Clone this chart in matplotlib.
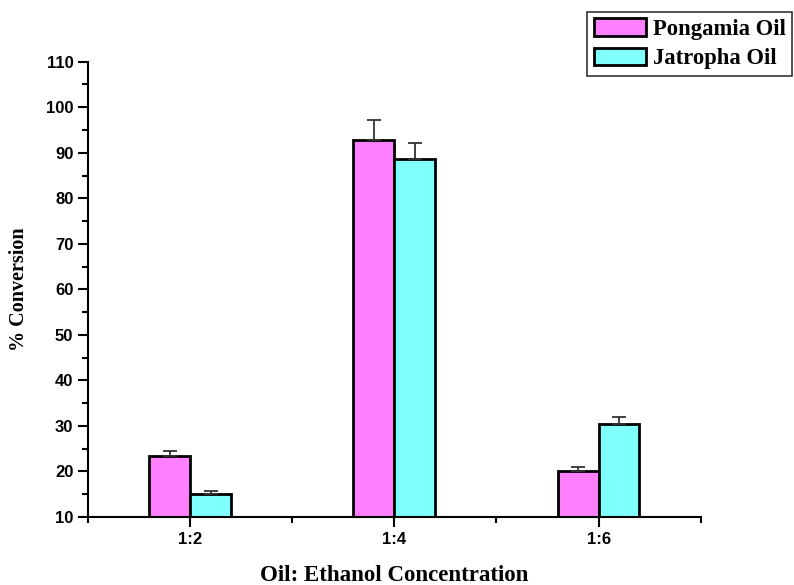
import matplotlib.pyplot as plt
import numpy as np

categories = ["1:2", "1:4", "1:6"]
pongamia = [23.4, 92.8, 20.1]
jatropha = [15.0, 88.7, 30.5]
pongamia_err = [1.1, 4.5, 0.9]
jatropha_err = [0.8, 3.5, 1.5]

fig = plt.figure(figsize=(7.94, 5.85), dpi=100)
ax = fig.add_axes([0.1108, 0.1162, 0.7717, 0.7783])

x = np.arange(1, len(categories) + 1)
w = 0.2
ax.bar(x - w / 2, pongamia, w, bottom=0, color="#FF80FF", edgecolor="black",
       linewidth=2, label="Pongamia Oil", zorder=2)
ax.bar(x + w / 2, jatropha, w, bottom=0, color="#80FFFF", edgecolor="black",
       linewidth=2, label="Jatropha Oil", zorder=2)

# upper-only error bars
ax.errorbar(x - w / 2, pongamia, yerr=[np.zeros(3), pongamia_err], fmt="none",
            ecolor="#333333", elinewidth=1.3, capsize=5, capthick=1.3, zorder=3)
ax.errorbar(x + w / 2, jatropha, yerr=[np.zeros(3), jatropha_err], fmt="none",
            ecolor="#333333", elinewidth=1.3, capsize=5, capthick=1.3, zorder=3)

ax.set_xlim(0.5, 3.5)
ax.set_ylim(10, 110)
ax.set_yticks(np.arange(10, 111, 10))
ax.set_yticks(np.arange(15, 110, 10), minor=True)
ax.set_xticks(x)
ax.set_xticklabels(categories)
ax.set_xticks([0.5, 1.5, 2.5, 3.5], minor=True)

for side in ("top", "right"):
    ax.spines[side].set_visible(False)
for side in ("left", "bottom"):
    ax.spines[side].set_linewidth(1.5)

ax.tick_params(axis="both", which="major", direction="out", length=7, width=1.5)
ax.tick_params(axis="both", which="minor", direction="out", length=4, width=1.5)
for lab in ax.get_xticklabels() + ax.get_yticklabels():
    lab.set_fontfamily("Liberation Sans")
    lab.set_fontweight("bold")
    lab.set_fontsize(12)

ax.set_xlabel("Oil: Ethanol Concentration", fontfamily="Liberation Serif",
              fontweight="bold", fontsize=16.5, labelpad=13)
ax.set_ylabel("% Conversion", fontfamily="Liberation Serif",
              fontweight="bold", fontsize=14.5, labelpad=12)

leg = fig.legend(loc="upper right", bbox_to_anchor=(0.998, 0.98),
                 prop={"family": "Liberation Serif", "weight": "bold", "size": 16.3},
                 frameon=True, fancybox=False, edgecolor="black",
                 handlelength=2.3, handleheight=0.8, handletextpad=0.3,
                 borderpad=0.3, labelspacing=0.35, borderaxespad=0)
leg.get_frame().set_linewidth(1.2)

fig.savefig("out.png", dpi=100)
